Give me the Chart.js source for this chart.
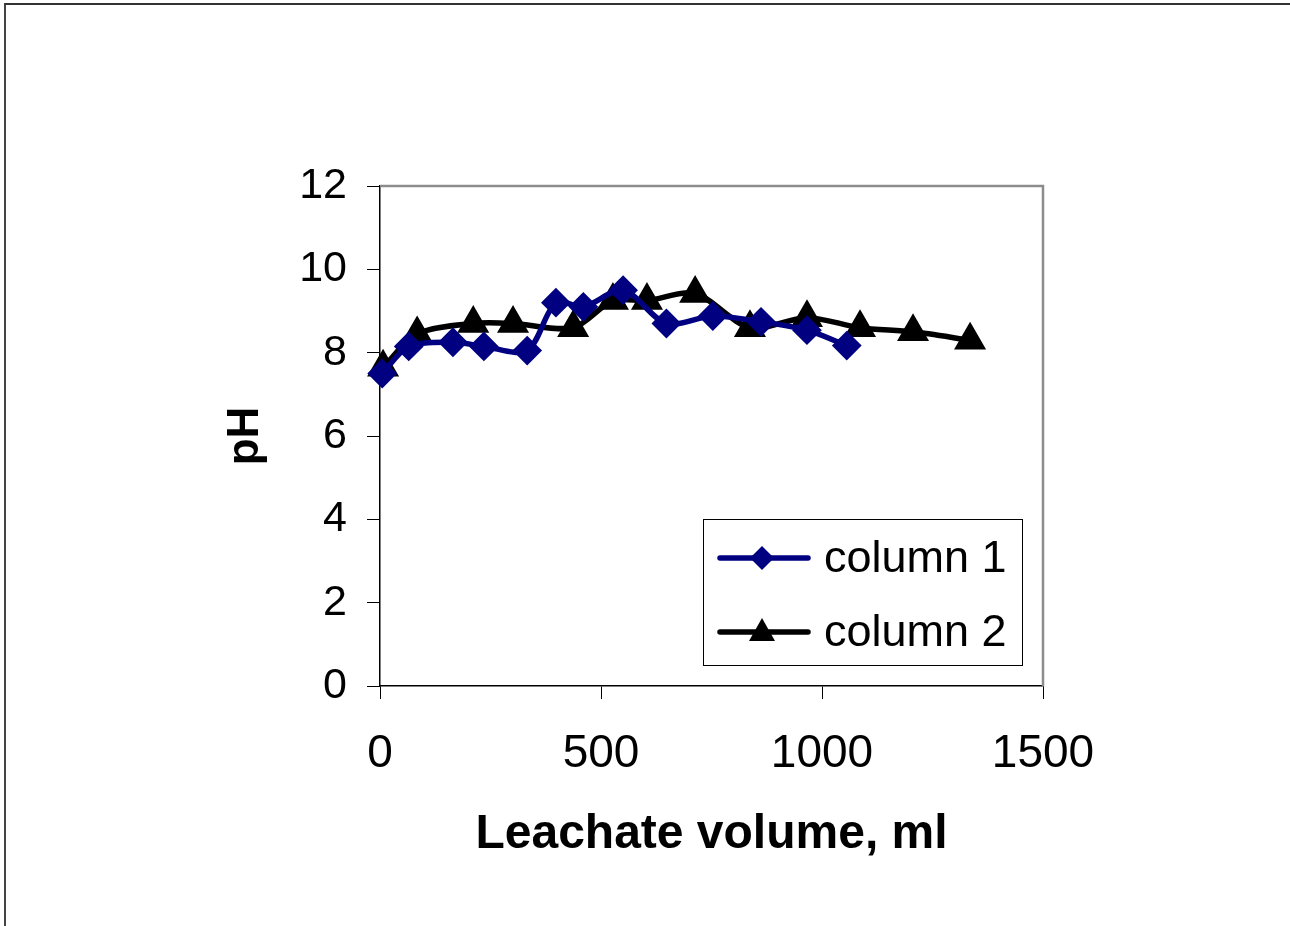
<!DOCTYPE html>
<html>
<head>
<meta charset="utf-8">
<script src="https://cdn.jsdelivr.net/npm/chart.js@4/dist/chart.umd.min.js"></script>
<style>
  html, body { margin: 0; padding: 0; background: #fff; }
  #wrap { position: relative; width: 1290px; height: 926px; overflow: hidden; }
  #frame { position: absolute; left: 4px; top: 3px; width: 1300px; height: 940px;
           border-top: 2px solid #333; border-left: 2px solid #444; }
  #chart { position: absolute; left: 0; top: 0; }
</style>
</head>
<body>
<div id="wrap">
  <div id="frame"></div>
  <canvas id="chart" width="1290" height="926"></canvas>
</div>
<script>
// leachate volume (ml) and pH for each column
const col1Volume = [5, 65, 165, 235, 333, 398, 460, 550, 648, 753, 862, 966, 1056];
const col1PH = [7.5, 8.15, 8.25, 8.15, 8.05, 9.2, 9.1, 9.5, 8.7, 8.88, 8.74, 8.54, 8.17];
const col2Volume = [7, 84, 211, 301, 437, 527, 604, 713, 837, 966, 1086, 1206, 1335];
const col2PH = [7.65, 8.45, 8.7, 8.7, 8.6, 9.25, 9.25, 9.42, 8.6, 8.84, 8.6, 8.5, 8.3];
const seriesNames = ['column 1', 'column 2'];
const xTicks = [0, 500, 1000, 1500];
const yTicks = [0, 2, 4, 6, 8, 10, 12];

const FONT = "'Liberation Sans', Arial, sans-serif";
const NAVY = '#000080';

function toPoints(xs, ys) {
    return xs.map((x, i) => ({ x: x, y: ys[i] }));
}

// grey frame on top/right of the plot area, drawn before datasets
const plotFrame = {
    id: 'plotFrame',
    beforeDatasetsDraw(chart) {
        const a = chart.chartArea;
        const ctx = chart.ctx;
        ctx.save();
        ctx.strokeStyle = '#8c8c8c';
        ctx.lineWidth = 2.5;
        ctx.beginPath();
        ctx.moveTo(a.left, a.top);
        ctx.lineTo(a.right, a.top);
        ctx.lineTo(a.right, a.bottom);
        ctx.stroke();
        ctx.restore();
    }
};

// boxed legend in the lower right of the plot
const boxLegend = {
    id: 'boxLegend',
    afterDraw(chart) {
        const ctx = chart.ctx;
        const x0 = 703, y0 = 519, w = 319, h = 146;
        ctx.save();
        ctx.fillStyle = '#fff';
        ctx.fillRect(x0, y0, w, h);
        ctx.strokeStyle = '#000';
        ctx.lineWidth = 1;
        ctx.strokeRect(x0 + 0.5, y0 + 0.5, w, h);
        chart.data.datasets.forEach((ds, i) => {
            const cy = 558 + i * 74;
            ctx.strokeStyle = ds.borderColor;
            ctx.lineWidth = 5.5;
            ctx.lineCap = 'round';
            ctx.beginPath();
            ctx.moveTo(720, cy);
            ctx.lineTo(808, cy);
            ctx.stroke();
            ctx.fillStyle = ds.pointBackgroundColor;
            ctx.beginPath();
            if (ds.pointStyle === 'rectRot') {
                ctx.moveTo(762, cy - 12);
                ctx.lineTo(774, cy);
                ctx.lineTo(762, cy + 12);
                ctx.lineTo(750, cy);
            } else {
                ctx.moveTo(762, cy - 14);
                ctx.lineTo(775, cy + 9);
                ctx.lineTo(749, cy + 9);
            }
            ctx.closePath();
            ctx.fill();
            ctx.fillStyle = '#000';
            ctx.font = '45px ' + FONT;
            ctx.textBaseline = 'middle';
            ctx.textAlign = 'left';
            ctx.fillText(ds.label, 824, cy + 2);
        });
        ctx.restore();
    }
};

const ctx = document.getElementById('chart').getContext('2d');
new Chart(ctx, {
    type: 'line',
    data: {
        datasets: [
            {
                label: seriesNames[0],
                data: toPoints(col1Volume, col1PH),
                borderColor: NAVY,
                backgroundColor: NAVY,
                pointBackgroundColor: NAVY,
                pointBorderColor: NAVY,
                pointStyle: 'rectRot',
                pointRadius: 11,
                borderWidth: 5.5,
                tension: 0.3,
                clip: false
            },
            {
                label: seriesNames[1],
                data: toPoints(col2Volume, col2PH),
                borderColor: '#000',
                backgroundColor: '#000',
                pointBackgroundColor: '#000',
                pointBorderColor: '#000',
                pointStyle: 'triangle',
                pointRadius: 13,
                borderWidth: 5.5,
                tension: 0.3,
                clip: false
            }
        ]
    },
    options: {
        responsive: false,
        animation: false,
        layout: { padding: { left: 200, right: 247, top: 186, bottom: 40 } },
        plugins: {
            legend: { display: false },
            tooltip: { enabled: false }
        },
        scales: {
            x: {
                type: 'linear',
                min: 0,
                max: 1500,
                afterBuildTicks: (s) => { s.ticks = xTicks.map(v => ({ value: v })); },
                afterFit: (s) => { s.height = 200; },
                border: { color: '#000', width: 1.5 },
                grid: { drawOnChartArea: false, drawTicks: true, tickLength: 13, color: '#000', lineWidth: 1 },
                ticks: {
                    color: '#000',
                    padding: 28,
                    maxRotation: 0,
                    callback: (v) => String(v),
                    font: { family: FONT, size: 46 }
                },
                title: {
                    display: true,
                    text: 'Leachate volume, ml',
                    color: '#000',
                    font: { family: FONT, size: 48, weight: 'bold' },
                    padding: { top: 0, bottom: 22 }
                }
            },
            y: {
                min: 0,
                max: 12,
                afterBuildTicks: (s) => { s.ticks = yTicks.map(v => ({ value: v })); },
                afterFit: (s) => { s.width = 180; },
                border: { color: '#000', width: 1.5 },
                grid: { drawOnChartArea: false, drawTicks: true, tickLength: 13, color: '#000', lineWidth: 1 },
                ticks: {
                    color: '#000',
                    padding: 20,
                    font: { family: FONT, size: 43 }
                },
                title: {
                    display: true,
                    text: 'pH',
                    color: '#000',
                    font: { family: FONT, size: 44, weight: 'bold' },
                    padding: { top: 19, bottom: 0 }
                }
            }
        }
    },
    plugins: [plotFrame, boxLegend]
});
</script>
</body>
</html>
